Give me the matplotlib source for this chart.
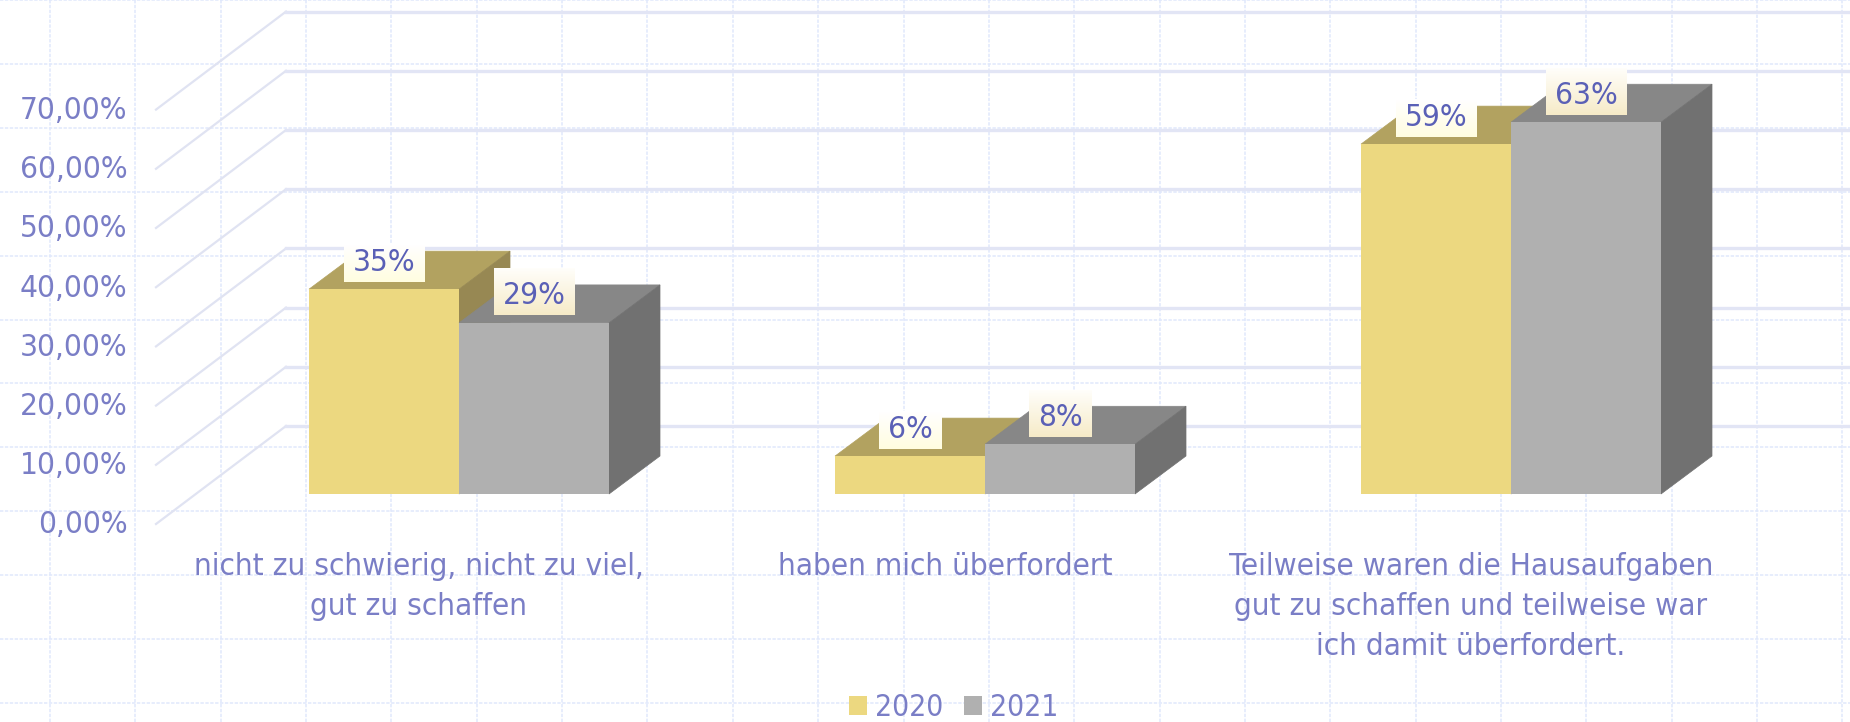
import numpy as np
import matplotlib
matplotlib.use("Agg")
import matplotlib.pyplot as plt
from matplotlib.patches import Polygon, Patch
from matplotlib.colors import to_rgb
from matplotlib.font_manager import FontProperties
from matplotlib.transforms import ScaledTranslation

# ---- data ----
categories = ["nicht zu schwierig, nicht zu viel,\ngut zu schaffen",
              "haben mich überfordert",
              "Teilweise waren die Hausaufgaben\ngut zu schaffen und teilweise war\nich damit überfordert."]
series_names = ["2020", "2021"]
values_2020 = [34.6, 6.4, 59.1]
values_2021 = [28.9, 8.4, 62.8]
labels_2020 = ["35%", "6%", "59%"]
labels_2021 = ["29%", "8%", "63%"]
y_ticks = [0, 10, 20, 30, 40, 50, 60, 70]
y_tick_labels = ["0,00%", "10,00%", "20,00%", "30,00%", "40,00%", "50,00%", "60,00%", "70,00%"]

# ---- style / layout ----
W, H = 1850, 722
TXT = "#7a7ec6"
VAL = "#5a60b6"
FP = FontProperties(family="DejaVu Sans", stretch="condensed", size=22.6)
FP_LEG = FontProperties(family="DejaVu Sans", stretch="condensed", size=21.5)
front = ["#ecd880", "#b0b0b0"]
top = ["#b2a260", "#878787"]
side = ["#978853", "#717171"]
box_cols = [("#ffffff", "#fffde0"), ("#fffefa", "#f6ebc8")]
box_h = [38, 47]
cat_px, val_px = 526.0, 5.92
ux, uy = 1 / cat_px, 1 / val_px
wall_dx, wall_dy = 130 * ux, 98 * uy
base_dx, base_dy = 40 * ux, 30 * uy
bar_dx, bar_dy = 51 * ux, 38 * uy
bar_w = 150 * ux

fig = plt.figure(figsize=(W / 100, H / 100), dpi=100, facecolor="white")

# background paper grid
bg = fig.add_axes([0, 0, 1, 1], zorder=0)
bg.set_xlim(0, W); bg.set_ylim(H, 0)
bg.set_xticks(np.arange(50, W, 85.35))
bg.set_yticks(np.arange(-1, H, 64))
bg.grid(True, color="#e0e8fc", lw=1.1, ls=(0, (2.2, 1)))
bg.tick_params(length=0, labelbottom=False, labelleft=False)
for s in bg.spines.values():
    s.set_visible(False)

ax = fig.add_axes([156 / W, (H - 524) / H, 1578 / W, 524 / H], zorder=1)
ax.patch.set_alpha(0)
xlim = (-0.5, 2.5)
ylim = (0, 524 * uy)
ax.set_xlim(*xlim)
ax.set_ylim(*ylim)
for s in ax.spines.values():
    s.set_visible(False)

# walls
for t in y_ticks:
    ax.plot([xlim[0], xlim[0] + wall_dx], [t, t + wall_dy], color="#e0e3f2", lw=1.6, clip_on=False, zorder=1)
    ax.plot([xlim[0] + wall_dx, xlim[1] + wall_dx], [t + wall_dy, t + wall_dy], color="#e2e5f5", lw=2.4, clip_on=False, zorder=1)

# bars
n_cat = len(categories)
renderer = fig.canvas.get_renderer()
for k, vals in enumerate([values_2020, values_2021]):
    texts = [labels_2020, labels_2021][k]
    for i in range(n_cat):
        xl = i + base_dx + (k - 1) * bar_w
        xr = xl + bar_w
        y0 = base_dy
        y1 = base_dy + vals[i]
        z = 2 + k
        ax.add_patch(Polygon([(xl, y1), (xr, y1), (xr + bar_dx, y1 + bar_dy), (xl + bar_dx, y1 + bar_dy)],
                             closed=True, fc=top[k], ec=top[k], lw=0.5, zorder=z, clip_on=False))
        ax.add_patch(Polygon([(xr, y0), (xr + bar_dx, y0 + bar_dy), (xr + bar_dx, y1 + bar_dy), (xr, y1)],
                             closed=True, fc=side[k], ec=side[k], lw=0.5, zorder=z, clip_on=False))
        ax.bar(xl + bar_w / 2, vals[i], width=bar_w, bottom=y0, color=front[k], zorder=z + 0.1, clip_on=False)
        # value label on gradient box, box width follows the text width
        cx = xl + bar_w / 2
        by = y1 + 7.5 * uy
        ty = by + box_h[k] * uy
        t = ax.text(cx, by + 19.5 * uy, texts[i], ha="center", va="center", color=VAL,
                    fontproperties=FP, zorder=6)
        half = (t.get_window_extent(renderer).width / 2 + 9) * ux
        c0, c1 = map(np.array, map(to_rgb, box_cols[k]))
        grad = np.linspace(c0, c1, 32)[:, None, :]
        ax.imshow(grad, extent=(cx - half, cx + half, by, ty), origin="upper",
                  aspect="auto", zorder=5, interpolation="bilinear", clip_on=False)

ax.set_xlim(*xlim)
ax.set_ylim(*ylim)
ax.set_xticks(range(n_cat))
ax.set_xticklabels(categories, fontproperties=FP, color=TXT, linespacing=1.46)
ax.set_yticks(y_ticks)
ax.set_yticklabels(y_tick_labels, fontproperties=FP, color=TXT)
ax.tick_params(axis="x", length=0, pad=20.5)
ax.tick_params(axis="y", length=0, pad=20.5)
lift = ScaledTranslation(0, 1.5 / 72, fig.dpi_scale_trans)
for lab in ax.get_yticklabels():
    lab.set_transform(lab.get_transform() + lift)

handles = [Patch(fc=front[0], ec="none"), Patch(fc=front[1], ec="none")]
fig.legend(handles, series_names, loc="center", bbox_to_anchor=(953.5 / W, 1 - 708 / H), ncols=2, frameon=False,
           prop=FP_LEG, labelcolor=TXT, handlelength=0.6, handleheight=0.6,
           handletextpad=0.27, columnspacing=0.7, borderpad=0, borderaxespad=0)

fig.savefig("out.png", dpi=100)
